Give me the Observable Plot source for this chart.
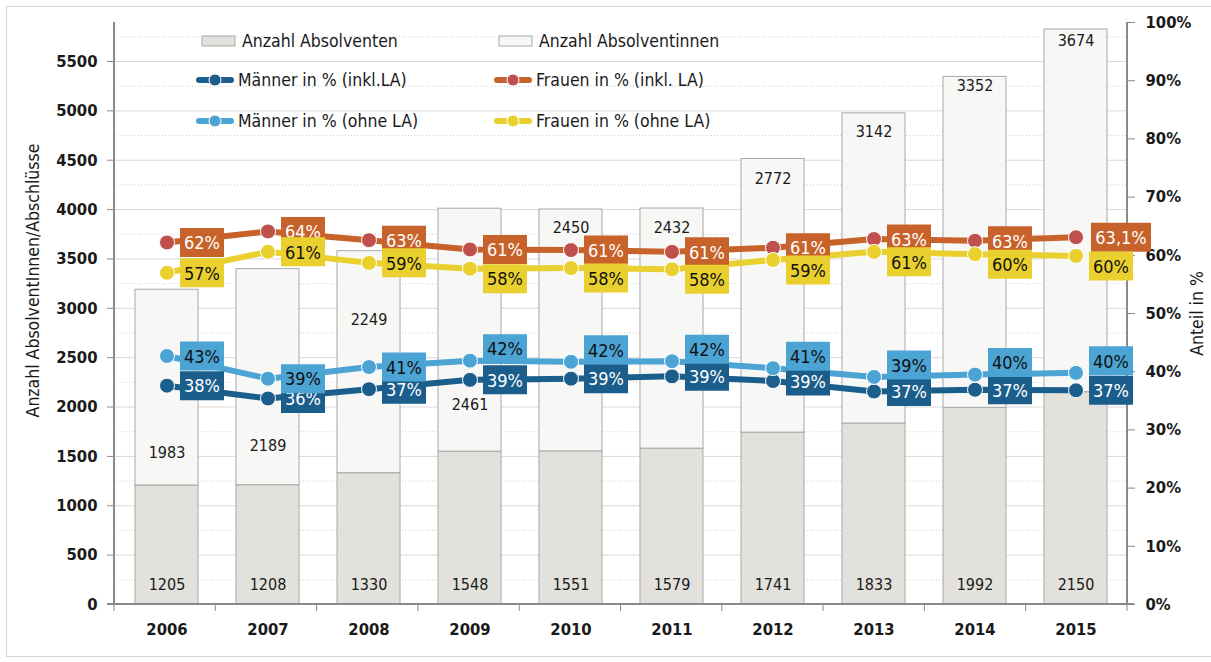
<!DOCTYPE html>
<html>
<head>
<meta charset="utf-8">
<script src="https://cdn.jsdelivr.net/npm/d3@7"></script>
<script src="https://cdn.jsdelivr.net/npm/@observablehq/plot@0.6"></script>
<style>
  html, body { margin: 0; padding: 0; background: #fff; }
  body { width: 1211px; height: 662px; position: relative; overflow: hidden;
         font-family: "Liberation Sans Narrow", "Arial Narrow", "DejaVu Sans Condensed", sans-serif; }
  #border { position: absolute; left: 6px; top: 6px; width: 1215px; height: 651px; border: 1px solid #d4d4d4; box-sizing: border-box; }
  #chart { position: absolute; left: 0; top: 0; }
  #legend { position: absolute; left: 0; top: 0; font-size: 17.5px; color: #1a1a1a; }
  .li { position: absolute; display: flex; align-items: center; height: 24px; white-space: nowrap; }
  .li svg { margin-right: 3px; }
</style>
</head>
<body>
<div id="border"></div>
<div id="chart"></div>
<div id="legend"></div>
<script>
// ---- data ----
const years = ["2006","2007","2008","2009","2010","2011","2012","2013","2014","2015"];
const absolventen = [1205,1208,1330,1548,1551,1579,1741,1833,1992,2150];
const absolventinnen = [1983,2189,2249,2461,2450,2432,2772,3142,3352,3674];
// where the Absolventinnen count label sits (left-axis units)
const innenLabelAt = [1540,1610,2880,2020,3810,3810,4310,4790,5250,5710];

const maennerInkl = [37.6,35.4,37.0,38.6,38.8,39.2,38.4,36.6,36.9,36.8];
const frauenInkl  = [62.2,64.1,62.6,61.0,60.9,60.6,61.3,62.8,62.5,63.1];
const maennerOhne = [42.7,38.8,40.8,41.9,41.7,41.8,40.6,39.1,39.5,39.8];
const frauenOhne  = [57.0,60.6,58.7,57.7,57.8,57.6,59.2,60.6,60.2,59.9];

const maennerInklLabels = ["38%","36%","37%","39%","39%","39%","39%","37%","37%","37%"];
const frauenInklLabels  = ["62%","64%","63%","61%","61%","61%","61%","63%","63%","63,1%"];
const maennerOhneLabels = ["43%","39%","41%","42%","42%","42%","41%","39%","40%","40%"];
const frauenOhneLabels  = ["57%","61%","59%","58%","58%","58%","59%","61%","60%","60%"];

const leftTicks = [0,500,1000,1500,2000,2500,3000,3500,4000,4500,5000,5500];
const rightTicks = [0,10,20,30,40,50,60,70,80,90,100];
const YMAX = 5895; // left axis top (100% on right axis)

// ---- derived tables ----
const bars = [];
years.forEach((y,i) => {
  bars.push({year:y, group:"Anzahl Absolventen", value:absolventen[i]});
  bars.push({year:y, group:"Anzahl Absolventinnen", value:absolventinnen[i]});
});
const pct = v => v * YMAX / 100;
function series(vals, labels, name) {
  return years.map((y,i) => ({year:y, i, v:pct(vals[i]), label:labels[i], name}));
}
const sMI = series(maennerInkl, maennerInklLabels, "Männer in % (inkl.LA)");
const sFI = series(frauenInkl, frauenInklLabels, "Frauen in % (inkl. LA)");
const sMO = series(maennerOhne, maennerOhneLabels, "Männer in % (ohne LA)");
const sFO = series(frauenOhne, frauenOhneLabels, "Frauen in % (ohne LA)");

const FONT = '"Liberation Sans Narrow", "Arial Narrow", "DejaVu Sans Condensed", sans-serif';
const C = {
  men: "#e2e1dc", women: "#f7f7f5", barStroke: "#a8a8a8",
  dark: "#1b5d8b", light: "#4ba4d4", orange: "#c8622b", red: "#c0504d", yellow: "#ead02e",
  grid: "#d9d9d9", axis: "#8a8a8a", text: "#1a1a1a"
};
const box = (w,h) => ({draw(ctx){ ctx.rect(-w/2, -h/2, w, h); }});
const BOXDX = 35;

function lineMarks(s, lineColor, dotColor) {
  return [
    Plot.line(s, {x:"year", y:"v", stroke:lineColor, strokeWidth:6, curve:"linear"}),
    Plot.dot(s, {x:"year", y:"v", r:7.5, fill:dotColor, stroke:"#fff", strokeWidth:1})
  ];
}
// labels in a box to the right of each point; from year index `from` on, nudged by `shift` px
function labelMarks(s, boxColor, textColor, from, shift) {
  const groups = [
    {rows: s.filter(d => d.i < from), dy: 0},
    {rows: s.filter(d => d.i >= from), dy: shift}
  ];
  const marks = [];
  for (const g of groups) {
    for (const wide of [false, true]) {
      const rows = g.rows.filter(d => (d.label.length > 3) === wide);
      if (!rows.length) continue;
      const dx = wide ? BOXDX + 10 : BOXDX;
      marks.push(Plot.dot(rows, {x:"year", y:"v", symbol: box(wide ? 60 : 44, 29), fill:boxColor, stroke:"none", dx, dy:g.dy}));
      marks.push(Plot.text(rows, {x:"year", y:"v", text:"label", fill:textColor, fontSize:18, dx, dy:g.dy + 1}));
    }
  }
  return marks;
}

// axis lines & category boundary ticks, from the plot's own dimensions
function axisLines(index, scales, values, dim) {
  const {width, height, marginLeft, marginRight, marginTop, marginBottom} = dim;
  const g = d3.create("svg:g");
  const x0 = marginLeft, x1 = width - marginRight, yb = height - marginBottom;
  const step = (x1 - x0) / years.length;
  g.append("line").attr("x1", x0).attr("x2", x0).attr("y1", marginTop).attr("y2", yb + 1)
    .attr("stroke", C.axis).attr("stroke-width", 2);
  g.append("line").attr("x1", x1).attr("x2", x1).attr("y1", marginTop).attr("y2", yb + 1)
    .attr("stroke", C.axis).attr("stroke-width", 2);
  g.append("line").attr("x1", x0 - 7).attr("x2", x1 + 7).attr("y1", yb).attr("y2", yb)
    .attr("stroke", C.axis).attr("stroke-width", 2);
  d3.range(years.length + 1).forEach(i => {
    g.append("line").attr("x1", x0 + i*step).attr("x2", x0 + i*step).attr("y1", yb).attr("y2", yb + 7)
      .attr("stroke", C.axis).attr("stroke-width", 1);
  });
  return g.node();
}

const minorTicks = leftTicks.map(t => t + 250).filter(t => t < YMAX);

const chart = Plot.plot({
  width: 1211, height: 662,
  marginLeft: 114, marginRight: 84, marginTop: 22, marginBottom: 58,
  style: {fontFamily: FONT, background: "transparent", color: C.text},
  x: {type: "band", domain: years, paddingInner: 0.38, paddingOuter: 0.19},
  y: {domain: [0, YMAX]},
  marks: [
    Plot.ruleY(minorTicks, {stroke: "#cfcfcf", strokeDasharray: "1,2", strokeWidth: 1}),
    Plot.ruleY(leftTicks.filter(t => t > 0), {stroke: C.grid, strokeWidth: 1}),
    Plot.barY(bars, {x:"year", y:"value", fill: d => d.group === "Anzahl Absolventen" ? C.men : C.women,
      stroke: C.barStroke, strokeWidth: 1, order: ["Anzahl Absolventen","Anzahl Absolventinnen"], z:"group"}),
    Plot.axisY({anchor:"left", ticks: leftTicks, tickFormat: d => String(d), tickSize: 7, tickPadding: 10, label: null,
      fontSize: 16.5, fontWeight: "bold", stroke: C.axis}),
    Plot.axisY({anchor:"right", ticks: rightTicks.map(pct), tickFormat: d => Math.round(d/YMAX*100) + "%",
      tickSize: 7, tickPadding: 11, label: null, fontSize: 16.5, fontWeight: "bold", stroke: C.axis}),
    Plot.axisX({anchor:"bottom", tickSize: 0, tickPadding: 19, label: null, fontSize: 16.5, fontWeight: "bold"}),
    axisLines,
    Plot.text(["Anzahl AbsolventInnen/Abschlüsse"], {frameAnchor:"left", textAnchor:"middle", dx:-81, dy:-33, rotate:-90, fontSize:17.5, fill:C.text}),
    Plot.text(["Anteil in %"], {frameAnchor:"right", textAnchor:"middle", dx:70, rotate:-90, fontSize:17.5, fill:C.text}),
    // count labels
    Plot.text(years.map((y,i)=>({year:y, v:absolventen[i]})), {x:"year", y:() => 0, text: d => String(d.v), dy:-20, fontSize:16, fill:C.text}),
    Plot.text(years.map((y,i)=>({year:y, v:absolventinnen[i], at:innenLabelAt[i]})), {x:"year", y:"at", text: d => String(d.v), fontSize:16, fill:C.text}),
    // percent lines
    ...lineMarks(sMI, C.dark, C.dark),
    ...lineMarks(sFI, C.orange, C.red),
    ...lineMarks(sMO, C.light, C.light),
    ...lineMarks(sFO, C.yellow, C.yellow),
    // percent labels
    ...labelMarks(sMI, C.dark, "#fff", 99, 0),
    ...labelMarks(sFI, C.orange, "#fff", 99, 0),
    ...labelMarks(sMO, C.light, "#111", 3, -12),
    ...labelMarks(sFO, C.yellow, "#111", 3, 10)
  ]
});
document.getElementById("chart").appendChild(chart);

// ---- legend (inside plot area, top) ----
const legendItems = [
  {label:"Anzahl Absolventen", kind:"rect", fill:C.men, left:199, top:41},
  {label:"Anzahl Absolventinnen", kind:"rect", fill:C.women, left:496, top:41},
  {label:"Männer in % (inkl.LA)", kind:"line", line:C.dark, dot:C.dark, left:195, top:80},
  {label:"Frauen in % (inkl. LA)", kind:"line", line:C.orange, dot:C.red, left:493, top:80},
  {label:"Männer in % (ohne LA)", kind:"line", line:C.light, dot:C.light, left:195, top:121},
  {label:"Frauen in % (ohne LA)", kind:"line", line:C.yellow, dot:C.yellow, left:493, top:121}
];
const leg = d3.select("#legend");
legendItems.forEach(it => {
  const div = leg.append("div").attr("class","li").style("left", it.left + "px").style("top", (it.top - 12) + "px");
  const sv = div.append("svg").attr("width", 40).attr("height", 20);
  if (it.kind === "rect") {
    sv.append("rect").attr("x", 3).attr("y", 5).attr("width", 33).attr("height", 10)
      .attr("fill", it.fill).attr("stroke", "#a8a8a8");
  } else {
    sv.append("line").attr("x1", 4).attr("x2", 36).attr("y1", 10).attr("y2", 10)
      .attr("stroke", it.line).attr("stroke-width", 6).attr("stroke-linecap", "round");
    sv.append("circle").attr("cx", 20).attr("cy", 10).attr("r", 6).attr("fill", it.dot).attr("stroke", "#fff");
  }
  div.append("span").text(it.label);
});
</script>
</body>
</html>
